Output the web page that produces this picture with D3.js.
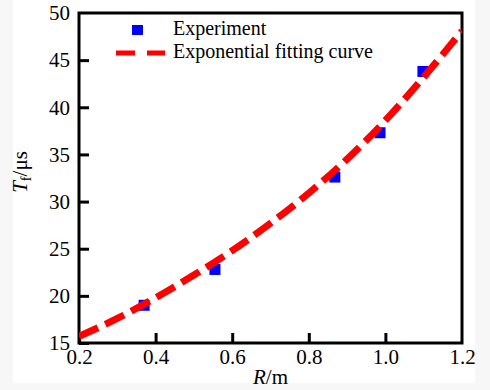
<!DOCTYPE html>
<html>
<head>
<meta charset="utf-8">
<script src="https://cdn.jsdelivr.net/npm/d3@7"></script>
<style>
    html, body { margin: 0; padding: 0; background: #f7f7f7; }
    svg { display: block; }
    text { font-family: "Liberation Serif", "Times New Roman", serif; fill: #000; }
</style>
</head>
<body>
<svg id="chart" width="490" height="390"></svg>
<script>
'use strict';

// experiment points
const expR = [0.37, 0.555, 0.868, 0.986, 1.098];
const expT = [19.0, 22.8, 32.6, 37.3, 43.8];

// exponential fitting curve, every 0.1 m
const fitR = [0.2, 0.3, 0.4, 0.5, 0.6, 0.7, 0.8, 0.9, 1.0, 1.1, 1.2];
const fitT = [15.7, 17.6, 19.8, 22.2, 24.8, 27.7, 30.9, 34.5, 38.6, 43.2, 48.1];

const xTicks = [0.2, 0.4, 0.6, 0.8, 1.0, 1.2];
const yTicks = [15, 20, 25, 30, 35, 40, 45, 50];
const legendLabels = ['Experiment', 'Exponential fitting curve'];

const margin = {top: 13, right: 28, bottom: 47, left: 79};
const width = 490 - margin.left - margin.right;
const height = 390 - margin.top - margin.bottom;

const svg = d3.select('#chart');

// white paper area, the scan has a greyish edge round it
svg.append('rect')
    .attr('x', 13).attr('y', 0)
    .attr('width', 462).attr('height', 383)
    .attr('fill', '#fff');

const g = svg.append('g')
    .attr('transform', 'translate(' + margin.left + ',' + margin.top + ')');

const x = d3.scaleLinear().domain([0.2, 1.2]).range([0, width]);
const y = d3.scaleLinear().domain([15, 50]).range([height, 0]);

g.append('clipPath').attr('id', 'plot-clip')
    .append('rect').attr('width', width).attr('height', height);

// axes, ticks point inward
const xAxis = g.append('g')
    .attr('transform', 'translate(0,' + height + ')')
    .call(d3.axisBottom(x).tickValues(xTicks).tickFormat(d3.format('.1f'))
        .tickSize(-10).tickPadding(6));

const yAxis = g.append('g')
    .call(d3.axisLeft(y).tickValues(yTicks).tickFormat(d3.format('d'))
        .tickSize(-10).tickPadding(9));

[xAxis, yAxis].forEach((ax) => {
    ax.attr('font-family', null).attr('font-size', null);
    ax.select('.domain').remove();
    ax.selectAll('.tick line').attr('stroke', '#000').attr('stroke-width', 3);
    ax.selectAll('.tick text')
        .style('font-family', '"Liberation Serif", serif')
        .style('font-size', '21px')
        .attr('fill', '#000');
});
xAxis.selectAll('.tick')
    .filter((d) => d === 1.2)
    .select('line').remove();
yAxis.selectAll('.tick')
    .filter((d) => d === 50)
    .select('line').remove();

// frame
g.append('rect')
    .attr('width', width).attr('height', height)
    .attr('fill', 'none')
    .attr('stroke', '#000')
    .attr('stroke-width', 3);

// experiment squares
const sq = 11;
g.selectAll('.exp')
    .data(expR.map((r, i) => ({r: r, t: expT[i]})))
    .enter()
    .append('rect')
    .attr('class', 'exp')
    .attr('x', (d) => x(d.r) - sq / 2)
    .attr('y', (d) => y(d.t) - sq / 2)
    .attr('width', sq).attr('height', sq)
    .attr('fill', '#0000ff');

// fitted curve
const line = d3.line()
    .x((d) => x(d.r))
    .y((d) => y(d.t))
    .curve(d3.curveMonotoneX);

g.append('path')
    .datum(fitR.map((r, i) => ({r: r, t: fitT[i]})))
    .attr('clip-path', 'url(#plot-clip)')
    .attr('d', line)
    .attr('fill', 'none')
    .attr('stroke', '#ff0000')
    .attr('stroke-width', 7)
    .attr('stroke-dasharray', '21,8');

// legend, rows a bit apart so the two labels do not collide
const legend = g.append('g').attr('transform', 'translate(37,17)');
legend.append('rect')
    .attr('x', 16).attr('y', -5)
    .attr('width', 11).attr('height', 10)
    .attr('fill', '#0000ff');
legend.append('line')
    .attr('x1', 0).attr('x2', 49)
    .attr('y1', 23).attr('y2', 23)
    .attr('stroke', '#ff0000')
    .attr('stroke-width', 5)
    .attr('stroke-dasharray', '19,12');
legend.selectAll('.legend-text')
    .data(legendLabels)
    .enter()
    .append('text')
    .attr('class', 'legend-text')
    .attr('x', 57)
    .attr('y', (d, i) => 5 + i * 23)
    .style('font-size', '20px')
    .text((d) => d);

// axis titles
const xTitle = svg.append('text')
    .attr('x', margin.left + width / 2)
    .attr('y', 384)
    .attr('text-anchor', 'middle')
    .style('font-size', '21px');
xTitle.append('tspan').style('font-style', 'italic').text('R');
xTitle.append('tspan').text('/m');

const yTitle = svg.append('text')
    .attr('transform', 'translate(27,172) rotate(-90)')
    .attr('text-anchor', 'middle')
    .style('font-size', '21px');
yTitle.append('tspan').style('font-style', 'italic').text('T');
yTitle.append('tspan').attr('dy', 4).style('font-size', '14px').text('f');
yTitle.append('tspan').attr('dy', -4).text('/μs');
</script>
</body>
</html>
